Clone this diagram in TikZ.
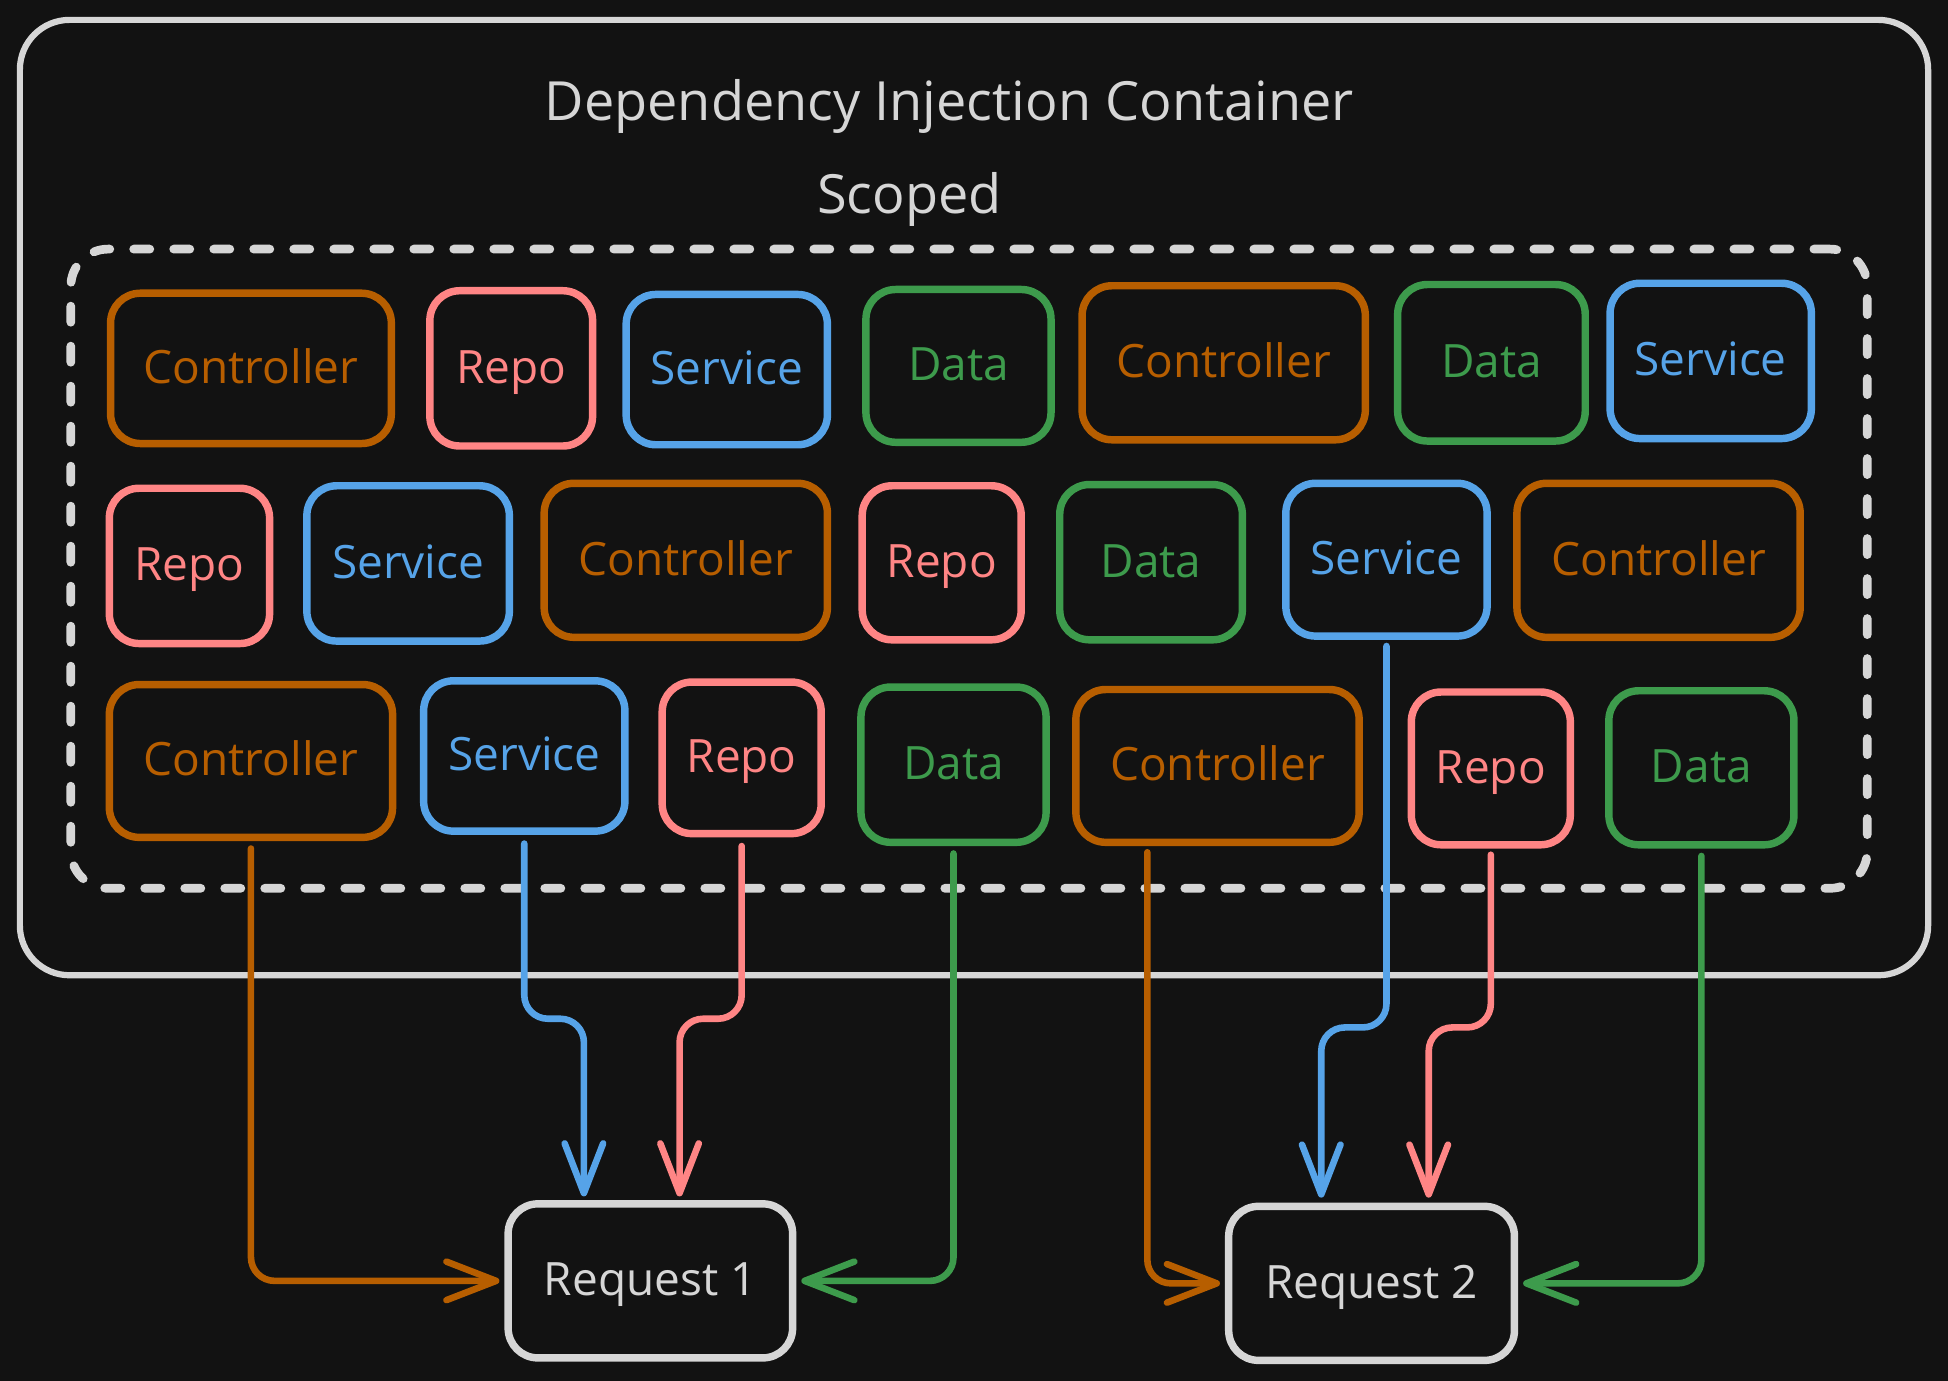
\documentclass[tikz,border=0pt]{standalone}
\usepackage{fontspec}
\setmainfont{Open Sans}
\usetikzlibrary{arrows.meta}
\definecolor{bgc}{HTML}{121212}
\definecolor{cor}{HTML}{B75E00}
\definecolor{cpk}{HTML}{FF8585}
\definecolor{cbl}{HTML}{56A3E8}
\definecolor{cgr}{HTML}{3D9B4C}
\definecolor{cwh}{HTML}{D6D6D6}
\tikzset{
  bx/.style={draw, rounded corners=24pt, line width=6pt, inner sep=0pt,
    font=\fontsize{37}{41}\selectfont, text height=24pt, text depth=0pt},
  arr/.style={line width=5.3pt, line cap=round, line join=round, rounded corners=19pt,
    -{Straight Barb[length=40pt,width=31pt,round]}},
  ttl/.style={text=cwh, font=\fontsize{43.5}{48}\selectfont, inner sep=0pt, anchor=base},
}
\newcommand\dibox[7]{\node[bx,draw=#2,text=#2,minimum width={#5-#3-6},minimum height={#6-#4-6}] (#1) at ({(#3+#5)/2},{(#4+#6)/2}) {#7};}
\begin{document}
\begin{tikzpicture}[x=1pt,y=-1pt]
\fill[bgc] (0,0) rectangle (1568,1111.6);
\useasboundingbox (0,0) rectangle (1568,1111.6);
% containers
\node[draw=cwh, line width=5pt, rounded corners=40pt, minimum width=1536pt, minimum height=769pt, inner sep=0pt] (outer) at (784,400.5) {};
\node[draw=cwh, line width=7pt, dash pattern=on 13pt off 19.2pt, line cap=round, rounded corners=30pt, minimum width=1446pt, minimum height=514.5pt, inner sep=0pt] (scope) at (780,457.75) {};
\node[ttl] (title) at (764,97) {Dependency Injection Container};
\node[ttl] (scoped) at (732,171.5) {Scoped};
% row 1
\dibox{r1c1}{cor}{86}{233}{318}{360}{Controller}
\dibox{r1c2}{cpk}{343}{231}{480}{362}{Repo}
\dibox{r1c3}{cbl}{501}{234}{669}{361}{Service}
\dibox{r1c4}{cgr}{694}{230}{849}{359}{Data}
\dibox{r1c5}{cor}{868}{227}{1102}{357}{Controller}
\dibox{r1c6}{cgr}{1122}{226}{1279}{358}{Data}
\dibox{r1c7}{cbl}{1293}{225}{1461}{356}{Service}
% row 2
\dibox{r2c1}{cpk}{85}{390}{220}{521}{Repo}
\dibox{r2c2}{cbl}{244}{388}{413}{519}{Service}
\dibox{r2c3}{cor}{435}{386}{669}{516}{Controller}
\dibox{r2c4}{cpk}{691}{388}{825}{518}{Repo}
\dibox{r2c5}{cgr}{850}{387}{1003}{518}{Data}
\dibox{r2c6}{cbl}{1032}{386}{1200}{515}{Service}
\dibox{r2c7}{cor}{1218}{386}{1452}{516}{Controller}
% row 3
\dibox{r3c1}{cor}{85}{548}{319}{677}{Controller}
\dibox{r3c2}{cbl}{338}{545}{506}{672}{Service}
\dibox{r3c3}{cpk}{530}{546}{664}{674}{Repo}
\dibox{r3c4}{cgr}{690}{550}{845}{681}{Data}
\dibox{r3c5}{cor}{863}{552}{1097}{681}{Controller}
\dibox{r3c6}{cpk}{1133}{554}{1267}{683}{Repo}
\dibox{r3c7}{cgr}{1292}{553}{1447}{683}{Data}
% requests
\dibox{req1}{cwh}{406}{966}{641}{1096}{Request 1}
\dibox{req2}{cwh}{986}{968}{1222}{1098}{Request 2}
% connectors
\coordinate (j2) at (470,820);
\coordinate (j3) at (547,820);
\coordinate (s5) at (923.5,686);
\coordinate (j6) at (1063.5,827);
\coordinate (j7) at (1150,827);
\draw[arr,cor,shorten >=4pt] ([yshift=-6pt]r3c1.south) |- (req1.west);
\draw[arr,cbl,shorten >=3pt] ([yshift=-7pt]r3c2.south) |- (j2) -- (j2 |- req1.north);
\draw[arr,cpk,shorten >=3pt] ([yshift=-7pt]r3c3.south) |- (j3) -- (j3 |- req1.north);
\draw[arr,cgr,shorten >=4pt] ([yshift=-6pt]r3c4.south) |- (req1.east);
\draw[arr,cor,shorten >=4pt] (s5) |- (req2.west);
\draw[arr,cbl,shorten >=4pt] ([yshift=-5pt]r2c6.south) |- (j6) -- (j6 |- req2.north);
\draw[arr,cpk,shorten >=4pt] ([yshift=-5pt]r3c6.south) |- (j7) -- (j7 |- req2.north);
\draw[arr,cgr,shorten >=4pt] ([yshift=-6pt]r3c7.south) |- (req2.east);
\end{tikzpicture}
\end{document}
